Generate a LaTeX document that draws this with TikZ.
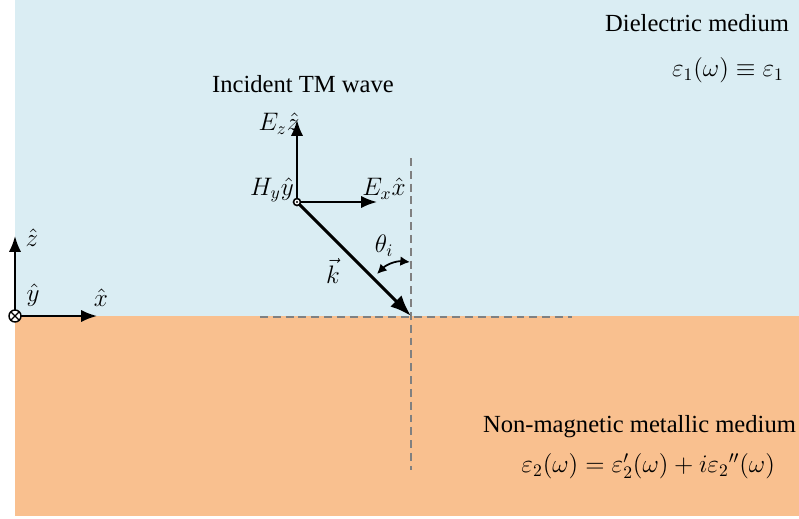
\documentclass[tikz,border=0pt]{standalone}
\usepackage{fontspec}
\setmainfont{Liberation Serif}
\usetikzlibrary{arrows.meta}
\definecolor{dielblue}{RGB}{218,237,243}
\definecolor{metalorange}{RGB}{249,192,143}
\definecolor{dashgray}{RGB}{128,128,128}
\tikzset{
  vec/.style={line width=1.2pt, -{Latex[length=9pt,width=7pt]}},
  guide/.style={dashgray, line width=1.5pt, dash pattern=on 4.5pt off 2.8pt},
  lbl/.style={inner sep=1pt, font=\fontsize{14}{17}\selectfont}
}
\begin{document}
\begin{tikzpicture}[x=0.02cm, y=-0.02cm]
  \useasboundingbox (0,0) rectangle (799,518);
  % Media
  \fill[dielblue] (15,0) rectangle (799,316);
  \fill[metalorange] (15,316) rectangle (799,516);

  % Normal and interface
  \coordinate (P) at (411,316);
  \coordinate (Ntop) at (411,158);
  \coordinate (Nbot) at (411,470);
  \coordinate (Ileft) at (260,317);
  \coordinate (Iright) at (572,317);
  \draw[guide] (Ileft) -- (Iright);
  \draw[guide] (Ntop) -- (Nbot);

  % Incident wave
  \coordinate (O) at (297,202);
  \coordinate (Ez) at (297,120);
  \coordinate (Ex) at (377,202);
  \draw[vec] (O) -- (Ez);
  \draw[vec] (O) -- (Ex);
  \draw[line width=1.8pt, -{Latex[length=12pt,width=9pt]}] (O) -- (P);
  \draw[line width=0.9pt, fill=white] (O) circle (3.5);
  \fill (O) circle (1.2);

  % Angle of incidence
  \coordinate (A1) at (410,262);
  \coordinate (A2) at (377,274);
  \draw[line width=1pt, {Latex[length=5.5pt,width=5.5pt]}-{Latex[length=5.5pt,width=5.5pt]}] (A1) to[bend right=25] (A2);

  % Labels of the wave
  \node[lbl] (title) at (303,84) {Incident TM wave};
  \node[lbl] (ezlbl) at (279,124) {$E_z\hat{z}$};
  \node[lbl] (exlbl) at (384,189) {$E_x\hat{x}$};
  \node[lbl] (hylbl) at (272,190) {$H_y\hat{y}$};
  \node[lbl] (klbl) at (333,271) {$\vec{k}$};
  \node[lbl] (thlbl) at (384,246) {$\theta_i$};

  % Axes
  \coordinate (C) at (15,316);
  \coordinate (Cz) at (15,236);
  \coordinate (Cx) at (97,316);
  \draw[vec] (C) -- (Cz);
  \draw[vec] (C) -- (Cx);
  \draw[line width=0.8pt, fill=white] (C) circle (6);
  \draw[line width=0.8pt] (C) ++(-4.2,-4.2) -- ++(8.4,8.4) (C) ++(-4.2,4.2) -- ++(8.4,-8.4);
  \node[lbl] (zhat) at (32,238) {$\hat{z}$};
  \node[lbl] (yhat) at (33,295) {$\hat{y}$};
  \node[lbl] (xhat) at (101,298) {$\hat{x}$};

  % Media labels
  \node[lbl, anchor=east] (diel) at (791,23) {Dielectric medium};
  \node[lbl, anchor=east] (eps1) at (786,70) {$\varepsilon_1(\omega)\equiv\varepsilon_1$};
  \node[lbl, anchor=east] (metal) at (798,427) {Non-magnetic metallic medium};
  \node[lbl, anchor=east] (eps2) at (777,466) {$\varepsilon_2(\omega)=\varepsilon_2'(\omega)+i\varepsilon_2{}''(\omega)$};
\end{tikzpicture}
\end{document}
